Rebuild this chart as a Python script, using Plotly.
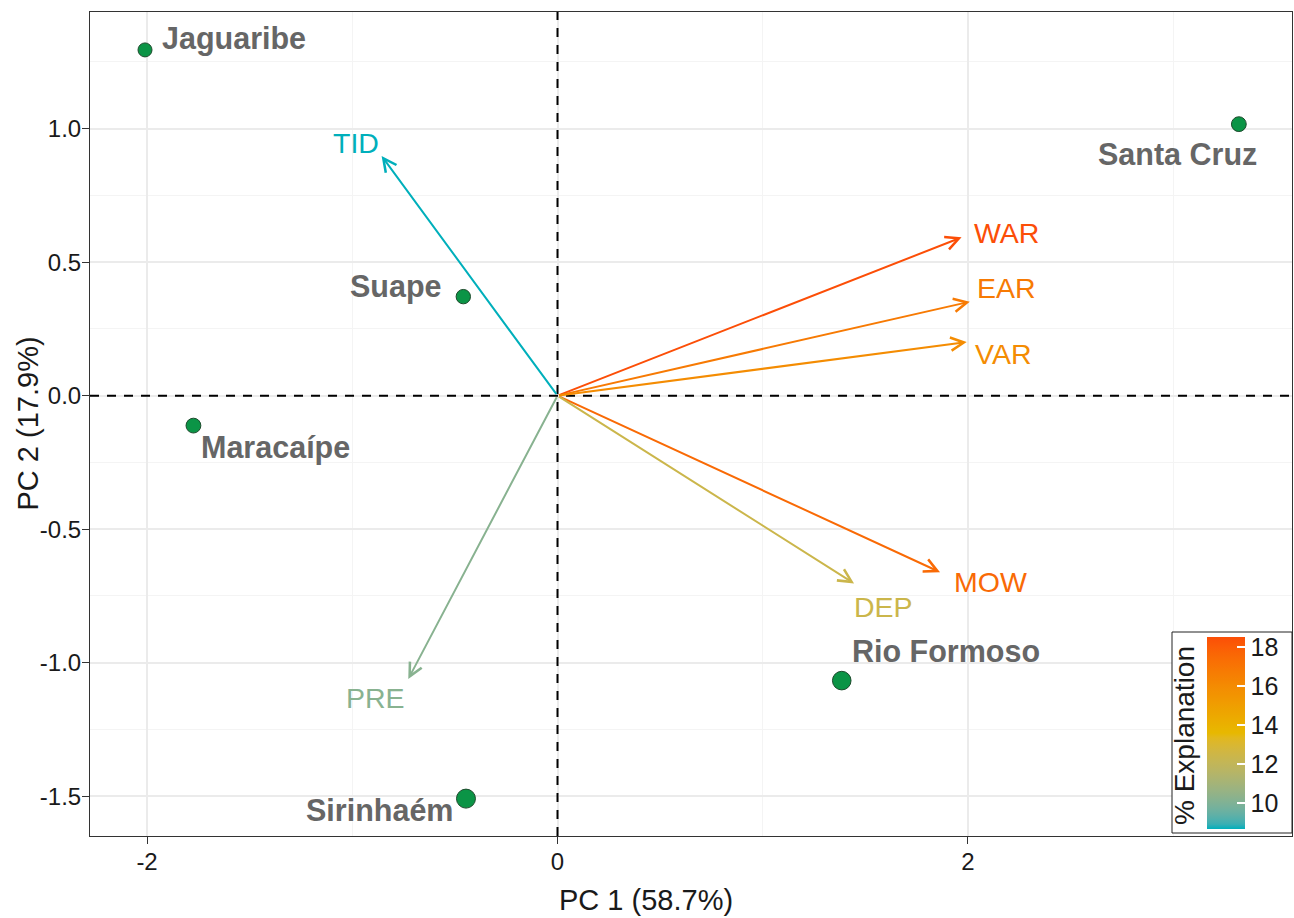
import plotly.graph_objects as go

# ---------------- data ----------------
sites = ["Jaguaribe", "Santa Cruz", "Suape", "Maracaípe", "Rio Formoso", "Sirinhaém"]
site_pc1 = [-2.010, 3.320, -0.459, -1.774, 1.385, -0.446]
site_pc2 = [1.295, 1.017, 0.371, -0.112, -1.067, -1.509]
site_quality = [0.70, 0.74, 0.72, 0.74, 0.93, 0.95]

variables = ["TID", "WAR", "EAR", "VAR", "MOW", "DEP", "PRE"]
var_pc1 = [-0.857, 1.969, 2.009, 1.994, 1.864, 1.445, -0.727]
var_pc2 = [0.898, 0.593, 0.352, 0.201, -0.661, -0.703, -1.061]
var_contrib = [8.67, 18.51, 16.80, 15.95, 17.50, 12.40, 10.20]

x_tickvals = [-2, 0, 2]
x_ticktext = ["-2", "0", "2"]
y_tickvals = [-1.5, -1.0, -0.5, 0.0, 0.5, 1.0]
y_ticktext = ["-1.5", "-1.0", "-0.5", "0.0", "0.5", "1.0"]
cb_tickvals = [10, 12, 14, 16, 18]

x_title = "PC 1 (58.7%)"
y_title = "PC 2 (17.9%)"
cb_title = "% Explanation"

# ---------------- colour helpers (Lab interpolation like ggplot) ----------------
grad_cols = ["#00AFBB", "#E7B800", "#FC4E07"]


def hex_to_rgb(h):
    h = h.lstrip("#")
    return [int(h[i:i + 2], 16) / 255 for i in (0, 2, 4)]


def srgb_to_lin(c):
    return c / 12.92 if c <= 0.04045 else ((c + 0.055) / 1.055) ** 2.4


def lin_to_srgb(c):
    c = max(0.0, min(1.0, c))
    return 12.92 * c if c <= 0.0031308 else 1.055 * c ** (1 / 2.4) - 0.055


WX, WY, WZ = 0.95047, 1.0, 1.08883


def rgb_to_lab(rgb):
    r, g, b = [srgb_to_lin(c) for c in rgb]
    X = 0.4124564 * r + 0.3575761 * g + 0.1804375 * b
    Y = 0.2126729 * r + 0.7151522 * g + 0.0721750 * b
    Z = 0.0193339 * r + 0.1191920 * g + 0.9503041 * b

    def f(t):
        return t ** (1 / 3) if t > 0.008856 else 7.787 * t + 16 / 116

    fx, fy, fz = f(X / WX), f(Y / WY), f(Z / WZ)
    return [116 * fy - 16, 500 * (fx - fy), 200 * (fy - fz)]


def lab_to_hex(lab):
    L, a, b = lab
    fy = (L + 16) / 116
    fx = fy + a / 500
    fz = fy - b / 200

    def finv(t):
        return t ** 3 if t ** 3 > 0.008856 else (t - 16 / 116) / 7.787

    X, Y, Z = WX * finv(fx), WY * finv(fy), WZ * finv(fz)
    r = 3.2404542 * X - 1.5371385 * Y - 0.4985314 * Z
    g = -0.9692660 * X + 1.8760108 * Y + 0.0415560 * Z
    bb = 0.0556434 * X - 0.2040259 * Y + 1.0572252 * Z
    return "#%02x%02x%02x" % tuple(int(round(lin_to_srgb(c) * 255)) for c in (r, g, bb))


grad_lab = [rgb_to_lab(hex_to_rgb(c)) for c in grad_cols]


def ramp(t):
    t = max(0.0, min(1.0, t))
    seg = t * (len(grad_lab) - 1)
    i = min(int(seg), len(grad_lab) - 2)
    u = seg - i
    a, b = grad_lab[i], grad_lab[i + 1]
    return lab_to_hex([a[k] + (b[k] - a[k]) * u for k in range(3)])


cmin, cmax = min(var_contrib), max(var_contrib)
n_stops = 41
colorscale = [[i / (n_stops - 1), ramp(i / (n_stops - 1))] for i in range(n_stops)]
var_colors = [ramp((v - cmin) / (cmax - cmin)) for v in var_contrib]

FONT = "Arial, 'Liberation Sans', Helvetica, sans-serif"
W, H = 1294, 918
ML, MR, MT, MB = 90, 2, 12, 82
PW, PH = W - ML - MR, H - MT - MB


def px_x(px):
    return (px - ML) / PW


def px_y(py):
    return (MT + PH - py) / PH


fig = go.Figure()

# invisible trace carrying the colour bar
fig.add_trace(go.Scatter(
    x=var_pc1, y=var_pc2, mode="markers", hoverinfo="skip", showlegend=False,
    marker=dict(size=1, opacity=0, color=var_contrib, colorscale=colorscale,
                cmin=cmin, cmax=cmax, showscale=True,
                colorbar=dict(
                    thickness=38, thicknessmode="pixels",
                    len=192, lenmode="pixels",
                    x=px_x(1207), xref="paper", xanchor="left",
                    y=px_y(733), yref="paper", yanchor="middle",
                    xpad=0, ypad=0, outlinewidth=0, borderwidth=0,
                    tickvals=cb_tickvals, ticks="inside", ticklen=8,
                    tickcolor="white", tickwidth=1.5,
                    tickfont=dict(family=FONT, size=25, color="#1a1a1a"),
                    title=dict(text=""),
                )),
))

# site points
site_sizes = [14 + (q - min(site_quality)) / (max(site_quality) - min(site_quality)) * 5
              for q in site_quality]
fig.add_trace(go.Scatter(
    x=site_pc1, y=site_pc2, mode="markers", showlegend=False,
    marker=dict(size=site_sizes, opacity=1, color="#0B9446",
                line=dict(color="#1d4a2c", width=1)),
    text=sites, hoverinfo="text",
))

# zero reference lines
fig.add_shape(type="line", xref="x", yref="paper", x0=0, x1=0, y0=0, y1=1,
              line=dict(color="black", width=2, dash="9px,8px"), layer="above")
fig.add_shape(type="line", xref="paper", yref="y", x0=0, x1=1, y0=0, y1=0,
              line=dict(color="black", width=2, dash="9px,8px"), layer="above")

# variable arrows
for vx, vy, col in zip(var_pc1, var_pc2, var_colors):
    fig.add_annotation(x=vx, y=vy, ax=0, ay=0, xref="x", yref="y", axref="x", ayref="y",
                       text="", showarrow=True, arrowhead=5, arrowsize=1.3,
                       arrowwidth=2, arrowcolor=col, standoff=0, startstandoff=0)

# variable labels (pixel offsets from arrow tips)
var_label_pos = {
    "TID": ("right", -1, 13),
    "WAR": ("left", 10, 4),
    "EAR": ("left", 5, 14),
    "VAR": ("left", 6, -12),
    "MOW": ("left", 12, -10),
    "DEP": ("left", -2, -24),
    "PRE": ("right", -1, -19),
}
for name, vx, vy, col in zip(variables, var_pc1, var_pc2, var_colors):
    anc, dx, dy = var_label_pos[name]
    fig.add_annotation(x=vx, y=vy, xref="x", yref="y", text=name, showarrow=False,
                       xanchor=anc, yanchor="middle", xshift=dx, yshift=dy,
                       font=dict(family=FONT, size=28.5, color=col))

# site labels
site_label_pos = {
    "Jaguaribe": ("left", 15, 11),
    "Santa Cruz": ("center", -61, -30),
    "Suape": ("right", -19, 10),
    "Maracaípe": ("left", 6, -22),
    "Rio Formoso": ("left", 8, 30),
    "Sirinhaém": ("right", -11, -11),
}
for name, sx, sy in zip(sites, site_pc1, site_pc2):
    anc, dx, dy = site_label_pos[name]
    fig.add_annotation(x=sx, y=sy, xref="x", yref="y", text=name, showarrow=False,
                       xanchor=anc, yanchor="middle", xshift=dx, yshift=dy,
                       font=dict(family=FONT, size=30.5, color="#666666", weight="bold"))

# legend box and colour bar title
fig.add_shape(type="rect", xref="paper", yref="paper",
              x0=px_x(1172), x1=px_x(1292), y0=px_y(833), y1=px_y(632),
              line=dict(color="#222222", width=1), fillcolor="white", layer="above")
fig.add_annotation(x=px_x(1184), y=px_y(736), xref="paper", yref="paper",
                   text=cb_title, showarrow=False, textangle=-90,
                   xanchor="center", yanchor="middle",
                   font=dict(family=FONT, size=28, color="#1a1a1a"))

# axis titles
fig.add_annotation(x=px_x(646), y=px_y(900), xref="paper", yref="paper",
                   text=x_title, showarrow=False, xanchor="center", yanchor="middle",
                   font=dict(family=FONT, size=29, color="#1a1a1a"))
fig.add_annotation(x=px_x(27.5), y=px_y(424), xref="paper", yref="paper",
                   text=y_title, showarrow=False, textangle=-90,
                   xanchor="center", yanchor="middle",
                   font=dict(family=FONT, size=29, color="#1a1a1a"))

axis_common = dict(
    showgrid=True, gridcolor="#ebebeb", gridwidth=1.5,
    zeroline=False, showline=True, mirror=True, linecolor="#333333", linewidth=1,
    ticks="outside", ticklen=7, tickwidth=1, tickcolor="#333333",
    tickfont=dict(family=FONT, size=24, color="#1a1a1a"),
)

fig.update_layout(
    width=W, height=H,
    margin=dict(l=ML, r=MR, t=MT, b=MB, autoexpand=False),
    paper_bgcolor="white", plot_bgcolor="white",
    font=dict(family=FONT),
    xaxis=dict(**axis_common, range=[-2.278, 3.579], tickvals=x_tickvals, ticktext=x_ticktext,
               minor=dict(tickvals=[-1, 1, 3], showgrid=True, gridcolor="#f4f4f4",
                          gridwidth=1, ticks="")),
    yaxis=dict(**axis_common, range=[-1.649, 1.437], tickvals=y_tickvals, ticktext=y_ticktext,
               minor=dict(tickvals=[-1.25, -0.75, -0.25, 0.25, 0.75, 1.25], showgrid=True,
                          gridcolor="#f4f4f4", gridwidth=1, ticks="")),
)

# pull tick labels slightly closer to the axis (as in the reference)
try:
    fig.update_xaxes(ticklabelstandoff=-3)
    fig.update_yaxes(ticklabelstandoff=-4)
except Exception:
    pass

fig.write_html("out.html")
